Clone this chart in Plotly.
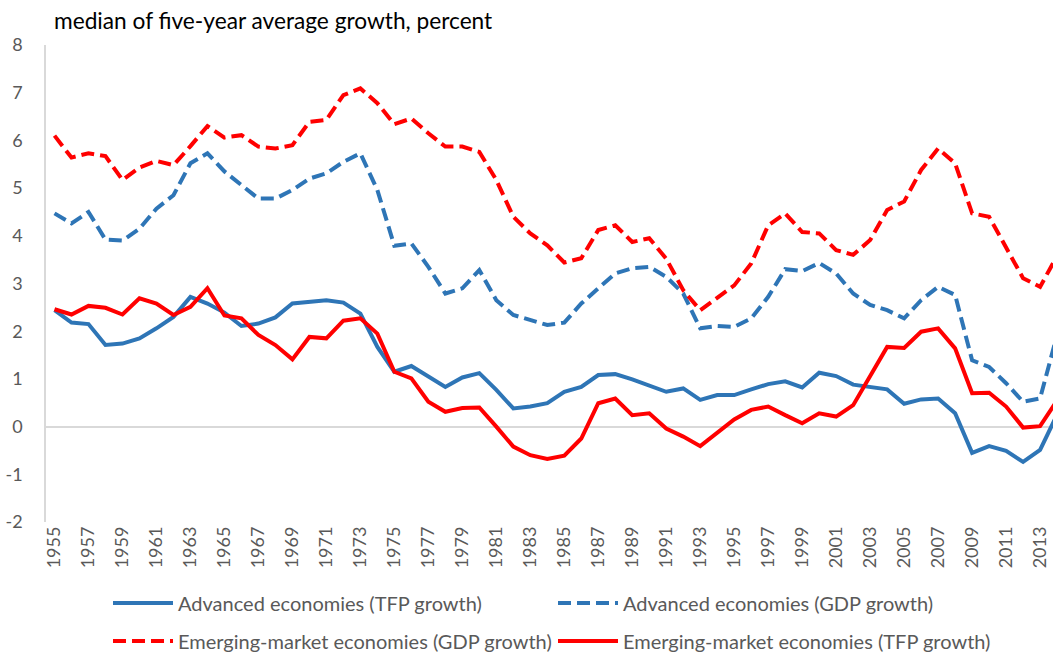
import plotly.graph_objects as go

years = list(range(1955, 2015))

adv_tfp = [2.44, 2.18, 2.15, 1.71, 1.74, 1.85, 2.06, 2.30, 2.72, 2.58,
           2.39, 2.11, 2.16, 2.29, 2.58, 2.62, 2.65, 2.60, 2.37, 1.67,
           1.15, 1.27, 1.06, 0.83, 1.03, 1.12, 0.77, 0.38, 0.42, 0.49,
           0.73, 0.83, 1.08, 1.10, 0.99, 0.87, 0.73, 0.80, 0.56, 0.66,
           0.66, 0.78, 0.89, 0.95, 0.82, 1.13, 1.06, 0.88, 0.82, 0.78,
           0.48, 0.57, 0.59, 0.28, -0.55, -0.41, -0.51, -0.74, -0.49, 0.25]

adv_gdp = [4.47, 4.26, 4.50, 3.92, 3.90, 4.15, 4.57, 4.85, 5.52, 5.73,
           5.35, 5.06, 4.78, 4.78, 4.96, 5.20, 5.31, 5.55, 5.73, 4.96,
           3.79, 3.84, 3.35, 2.79, 2.90, 3.28, 2.65, 2.34, 2.23, 2.13,
           2.18, 2.58, 2.90, 3.21, 3.32, 3.35, 3.14, 2.79, 2.06, 2.11,
           2.09, 2.27, 2.72, 3.30, 3.26, 3.43, 3.21, 2.79, 2.55, 2.44,
           2.27, 2.65, 2.93, 2.76, 1.39, 1.25, 0.91, 0.52, 0.59, 1.92]

em_gdp = [6.10, 5.64, 5.73, 5.67, 5.17, 5.43, 5.57, 5.48, 5.88, 6.30,
          6.06, 6.11, 5.87, 5.83, 5.90, 6.39, 6.43, 6.95, 7.09, 6.78,
          6.34, 6.46, 6.15, 5.87, 5.87, 5.76, 5.17, 4.40, 4.05, 3.80,
          3.44, 3.53, 4.12, 4.22, 3.87, 3.95, 3.52, 2.86, 2.44, 2.69,
          2.96, 3.42, 4.22, 4.47, 4.08, 4.05, 3.70, 3.60, 3.91, 4.54,
          4.72, 5.38, 5.83, 5.52, 4.47, 4.40, 3.77, 3.11, 2.93, 3.58]

em_tfp = [2.46, 2.35, 2.53, 2.49, 2.35, 2.69, 2.58, 2.34, 2.51, 2.90,
          2.33, 2.27, 1.92, 1.71, 1.41, 1.88, 1.85, 2.22, 2.27, 1.95,
          1.15, 1.01, 0.52, 0.31, 0.39, 0.40, 0.00, -0.42, -0.60, -0.68,
          -0.61, -0.25, 0.49, 0.59, 0.24, 0.28, -0.04, -0.21, -0.41, -0.13,
          0.15, 0.35, 0.42, 0.24, 0.07, 0.28, 0.21, 0.45, 1.08, 1.67,
          1.65, 1.99, 2.06, 1.64, 0.70, 0.71, 0.42, -0.02, 0.01, 0.55]

names = ["Advanced economies (TFP growth)", "Advanced economies (GDP growth)",
         "Emerging-market economies (GDP growth)", "Emerging-market economies (TFP growth)"]

y_ticks = [8, 7, 6, 5, 4, 3, 2, 1, 0, -1, -2]
y_ticktext = ["8", "7", "6", "5", "4", "3", "2", "1", "0", "-1", "-2"]
x_ticks = list(range(1955, 2014, 2))

BLUE = "#2E75B6"
RED = "#FF0000"
DASH = "13px,6px"
FONT = "Lato"
GREY = "#595959"

fig = go.Figure()
fig.add_trace(go.Scatter(x=years, y=adv_tfp, name=names[0], mode="lines",
                         line=dict(color=BLUE, width=4), legend="legend"))
fig.add_trace(go.Scatter(x=years, y=adv_gdp, name=names[1], mode="lines",
                         line=dict(color=BLUE, width=4, dash=DASH), legend="legend"))
fig.add_trace(go.Scatter(x=years, y=em_gdp, name=names[2], mode="lines",
                         line=dict(color=RED, width=4, dash=DASH), legend="legend2"))
fig.add_trace(go.Scatter(x=years, y=em_tfp, name=names[3], mode="lines",
                         line=dict(color=RED, width=4), legend="legend2"))

legend_common = dict(orientation="h", xref="container", yref="container",
                     xanchor="left", yanchor="middle", x=108 / 1053,
                     entrywidth=370, entrywidthmode="pixels", itemwidth=60,
                     font=dict(family=FONT, size=20, color=GREY),
                     bgcolor="rgba(0,0,0,0)", traceorder="normal")

fig.update_layout(
    width=1053, height=654,
    margin=dict(l=46, r=0, t=45, b=132),
    paper_bgcolor="white", plot_bgcolor="white",
    showlegend=True,
    legend=dict(**legend_common, y=1 - 603 / 654),
    legend2=dict(**legend_common, y=1 - 641 / 654),
    xaxis=dict(range=[1954.5, 2013.76], tickvals=x_ticks, automargin=False,
               ticktext=[str(v) for v in x_ticks], tickangle=-90,
               showgrid=False, showline=False, zeroline=False, ticks="",
               tickfont=dict(family=FONT, size=18, color=GREY)),
    yaxis=dict(range=[-2, 8], tickvals=y_ticks, ticktext=y_ticktext, automargin=False,
               showgrid=False, showline=True, linecolor="#D9D9D9", linewidth=1.5,
               zeroline=True, zerolinecolor="#D9D9D9", zerolinewidth=2,
               ticks="", ticklabelstandoff=18,
               tickfont=dict(family=FONT, size=18, color=GREY)),
    annotations=[dict(text="median of five-year average growth, percent",
                      xref="paper", yref="paper", x=0.006, y=(522 - 20) / 477,
                      xanchor="left", yanchor="middle", showarrow=False,
                      font=dict(family=FONT, size=22.7, color="#000000"))],
)

fig.write_html("out.html", config={"displayModeBar": False},
               post_script="document.body.style.margin='0px';document.body.style.padding='0px';")
